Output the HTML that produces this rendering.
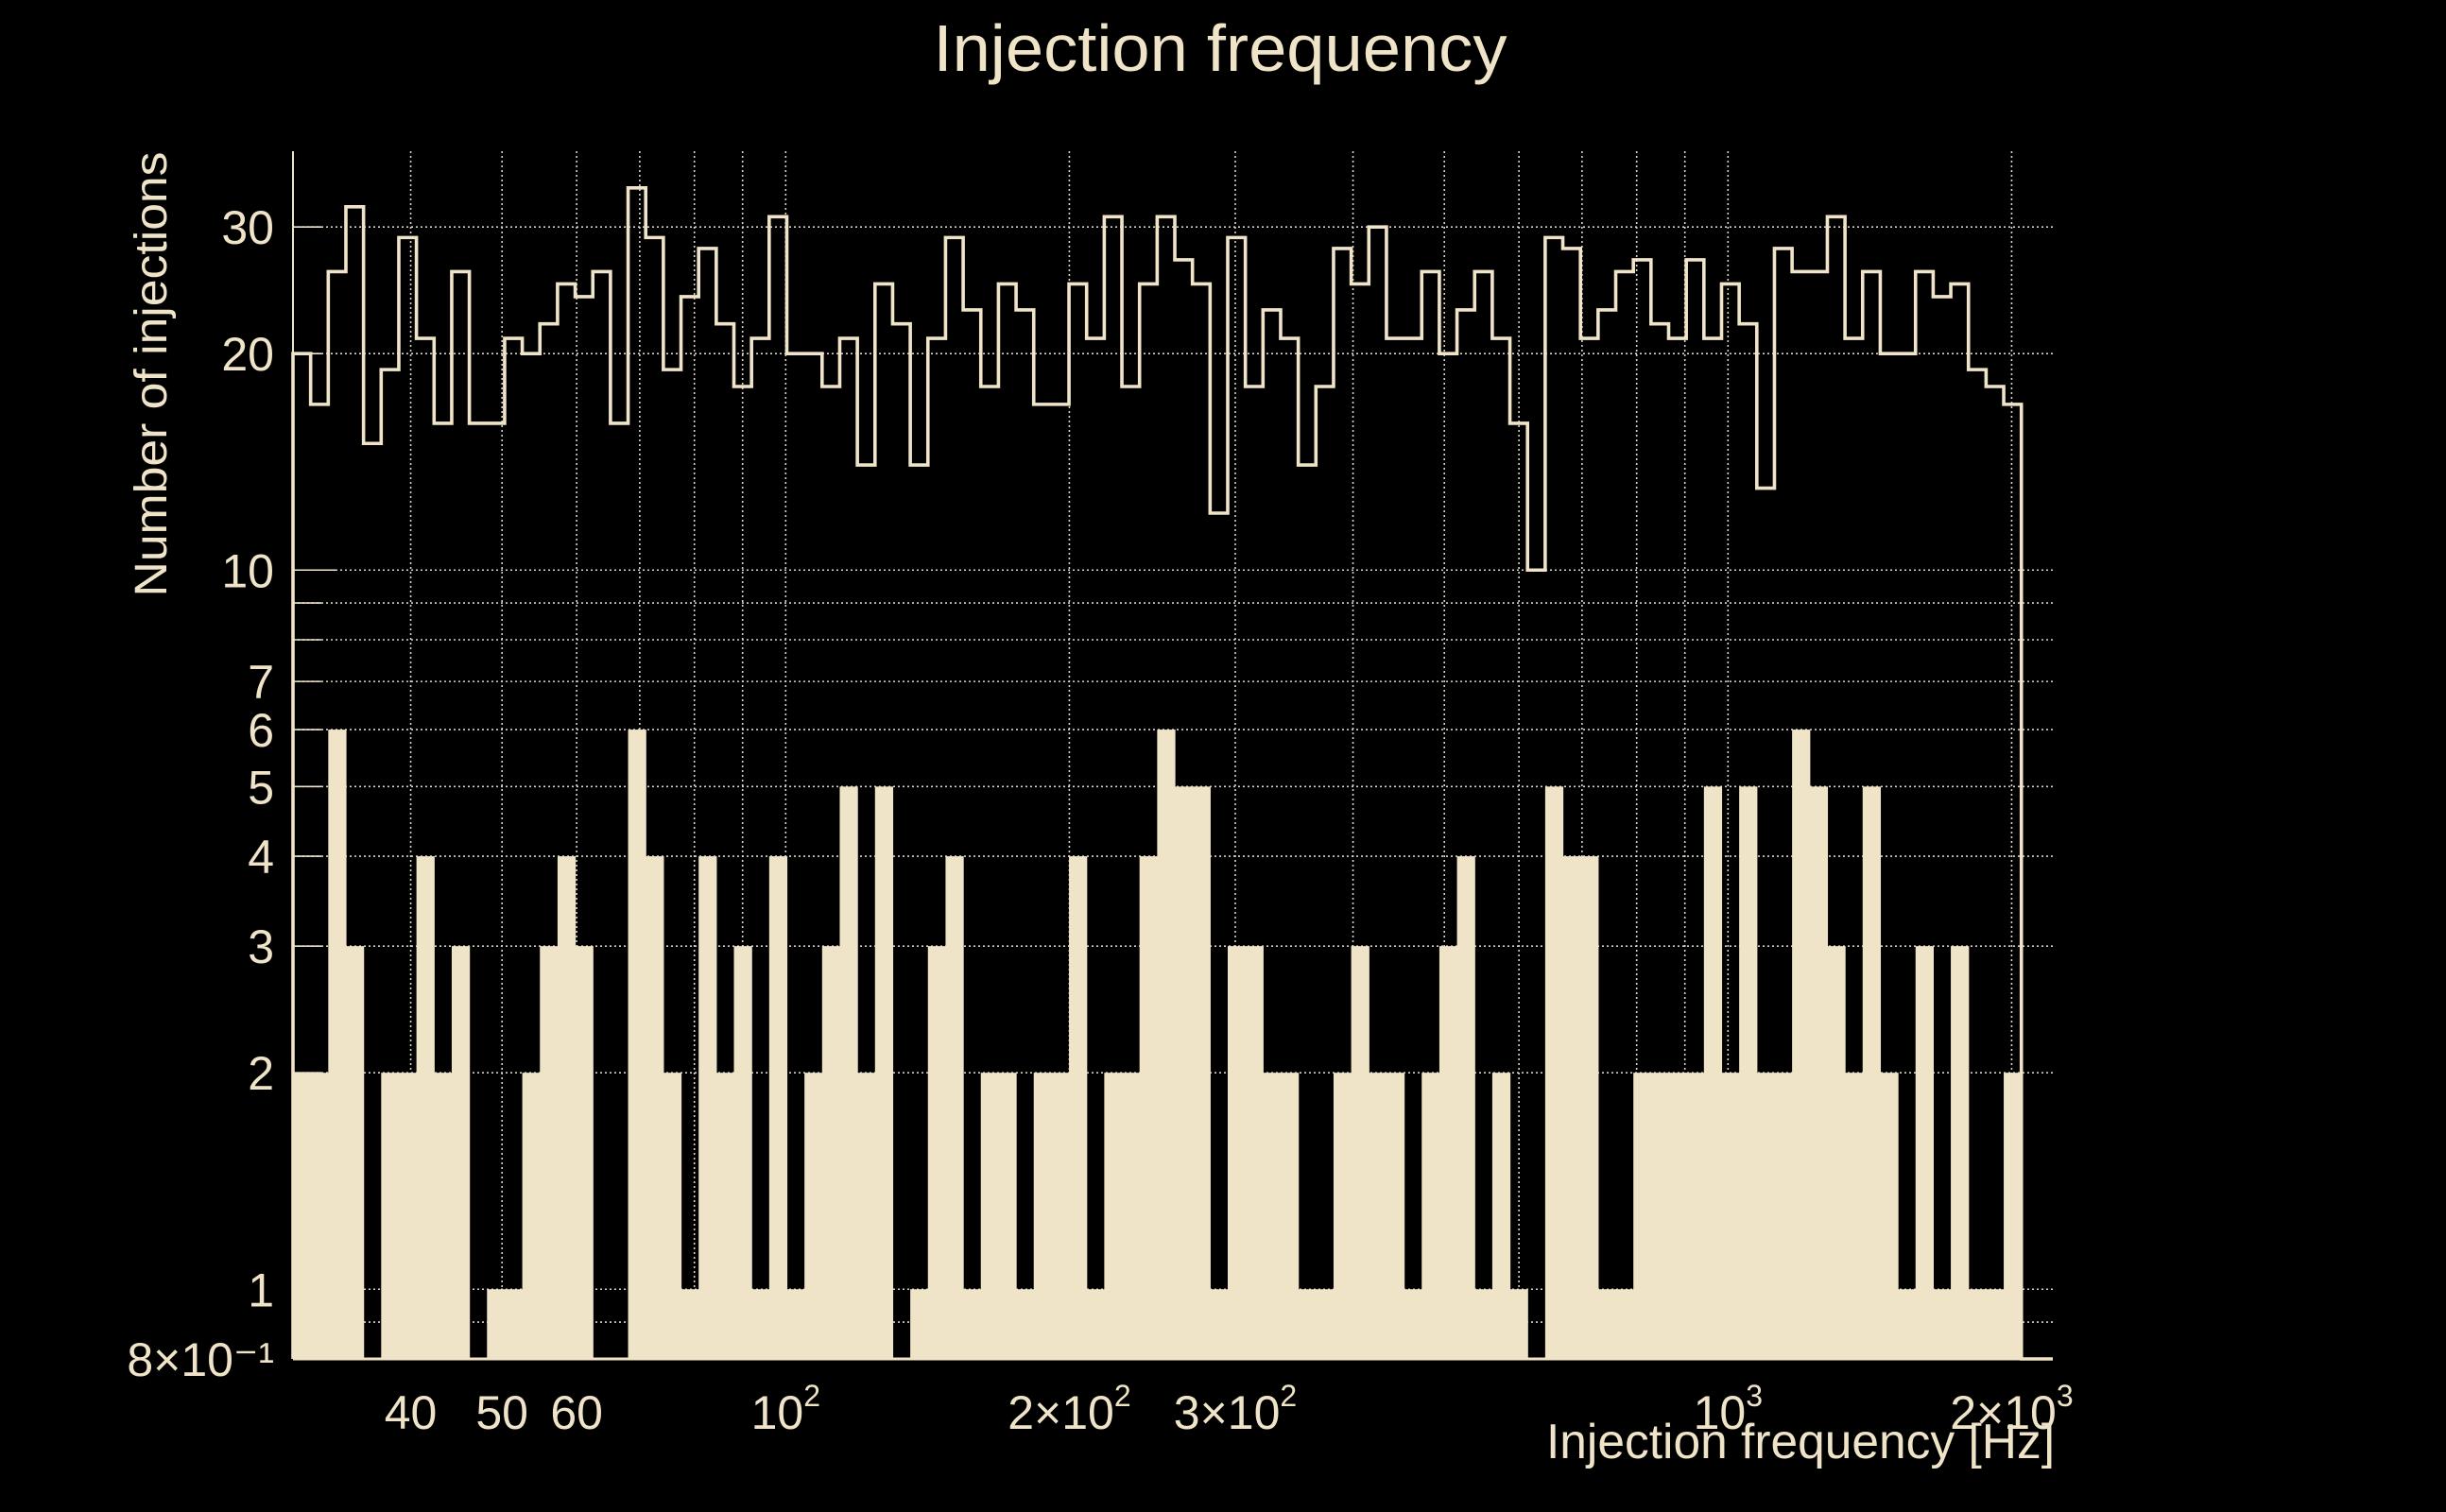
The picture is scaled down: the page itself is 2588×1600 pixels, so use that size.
<!DOCTYPE html>
<html><head><meta charset="utf-8"><style>
html,body{margin:0;padding:0;background:#000;}
svg{display:block;font-family:"Liberation Sans",sans-serif;}
</style></head><body>
<svg id="chart" width="2588" height="1600" viewBox="0 0 2588 1600" xmlns="http://www.w3.org/2000/svg">
<rect x="0" y="0" width="2588" height="1600" fill="#000"/>
<g id="grid"></g>
<g id="bars"></g>
<g id="line"></g>
<g id="axes"></g>
<text x="1291" y="75" font-size="70" fill="#EFE4C8" text-anchor="middle" textLength="607" lengthAdjust="spacingAndGlyphs">Injection frequency</text>
<text transform="translate(176,396) rotate(-90)" font-size="48" fill="#EFE4C8" text-anchor="middle" textLength="471" lengthAdjust="spacingAndGlyphs">Number of injections</text>
<text x="2174" y="1543" font-size="52" fill="#EFE4C8" text-anchor="end" textLength="538" lengthAdjust="spacingAndGlyphs">Injection frequency [Hz]</text>
</svg>
<script>
// ---- data ----
const binLowHz = 30;
const binHighHz = 2048;
const outlineCounts = [20,17,26,32,15,19,29,21,16,26,16,16,21,20,22,25,24,26,16,34,29,19,24,28,22,18,21,31,20,20,18,21,14,25,22,14,21,29,23,18,25,23,17,17,25,21,31,18,25,31,27,25,12,29,18,23,21,14,18,28,25,30,21,21,26,20,23,26,21,16,10,29,28,21,23,26,27,22,21,27,21,25,22,13,28,26,26,31,21,26,20,20,26,24,25,19,18,17];
const filledCounts = [2,2,6,3,0,2,2,4,2,3,0,1,1,2,3,4,3,0,0,6,4,2,1,4,2,3,1,4,1,2,3,5,2,5,0,1,3,4,1,2,2,1,2,2,4,1,2,2,4,6,5,5,1,3,3,2,2,1,1,2,3,2,2,1,2,3,4,1,2,1,0,5,4,4,1,1,2,2,2,2,5,2,5,2,2,6,5,3,2,5,2,1,3,1,3,1,1,2];
const yTickValues = [0.8,1,2,3,4,5,6,7,10,20,30];
const yTickLabels = ["8\u00d710\u207b\u00b9","1","2","3","4","5","6","7","10","20","30"];
const yGridValues = [0.9,1,2,3,4,5,6,7,8,9,10,20,30];
const xGridValues = [40,50,60,70,80,90,100,200,300,400,500,600,700,800,900,1000,2000];
const xTickValues = [40,50,60,100,200,300,1000,2000];
const xTickMain = ["40","50","60","10","2\u00d710","3\u00d710","10","2\u00d710"];
const xTickSup = ["","","","2","2","2","3","3"];

// ---- scales ----
const L=310, R=2172, T=160, B=1438;
const yMin=0.8, pxPerDecY=761;
const xMin=30, pxPerDecX=997;
const C="#EFE4C8";
function xs(v){return L+pxPerDecX*Math.log10(v/xMin);}
function ys(v){return B-pxPerDecY*Math.log10(v/yMin);}
const NS="http://www.w3.org/2000/svg";
function mk(tag,attrs,parent){const e=document.createElementNS(NS,tag);for(const k in attrs)e.setAttribute(k,attrs[k]);parent.appendChild(e);return e;}
const n=filledCounts.length;
const ratio=Math.pow(binHighHz/binLowHz,1/n);
function edge(i){return binLowHz*Math.pow(ratio,i);}

// grid
const grid=document.getElementById('grid');
yGridValues.forEach(v=>{
  const l=mk('line',{x1:L,x2:R,y1:ys(v),y2:ys(v),stroke:"#d8d4c8","stroke-width":1.6,"stroke-dasharray":"2,3"},grid);
  
  
});
xGridValues.forEach(v=>{
  const l=mk('line',{x1:xs(v),x2:xs(v),y1:T,y2:B,stroke:"#d8d4c8","stroke-width":1.6,"stroke-dasharray":"2,3"},grid);
  
  
});

// bars
const bars=document.getElementById('bars');
filledCounts.forEach((c,i)=>{
  if(c<=0) return;
  const x0=xs(edge(i)), x1=xs(edge(i+1));
  const r=mk('rect',{x:x0,y:ys(c),width:x1-x0+0.6,height:B-ys(c),fill:C},bars);
  
  
});

// outline
let d="M"+xs(edge(0))+","+B;
outlineCounts.forEach((c,i)=>{
  d+=" L"+xs(edge(i))+","+ys(c)+" L"+xs(edge(i+1))+","+ys(c);
});
d+=" L"+xs(edge(outlineCounts.length))+","+B+" L"+R+","+B;
const p=mk('path',{d:d,fill:"none",stroke:C,"stroke-width":3.6},document.getElementById('line'));



// axes
const axes=document.getElementById('axes');
const ya=mk('line',{x1:L,x2:L,y1:T,y2:B,stroke:C,"stroke-width":2},axes);


const xa=mk('line',{x1:L,x2:R,y1:B,y2:B,stroke:C,"stroke-width":3},axes);


yGridValues.forEach(v=>{
  const t=mk('line',{x1:L,x2:L+(v===10?45:30),y1:ys(v),y2:ys(v),stroke:C,"stroke-width":1.6},axes);
  
  
});
yTickValues.forEach((v,i)=>{
  const t=mk('text',{x:290,y:ys(v)+18,"font-size":50,fill:C,"text-anchor":"end"},axes);
  t.textContent=yTickLabels[i];
  
  
});
xTickValues.forEach((v,i)=>{
  const t=mk('text',{x:xs(v),y:1512,"font-size":50,fill:C,"text-anchor":"middle"},axes);
  
  
  const a=mk('tspan',{},t); a.textContent=xTickMain[i];
  if(xTickSup[i]){const s=mk('tspan',{"font-size":32,dy:-24},t); s.textContent=xTickSup[i];}
});
</script>
</body></html>
